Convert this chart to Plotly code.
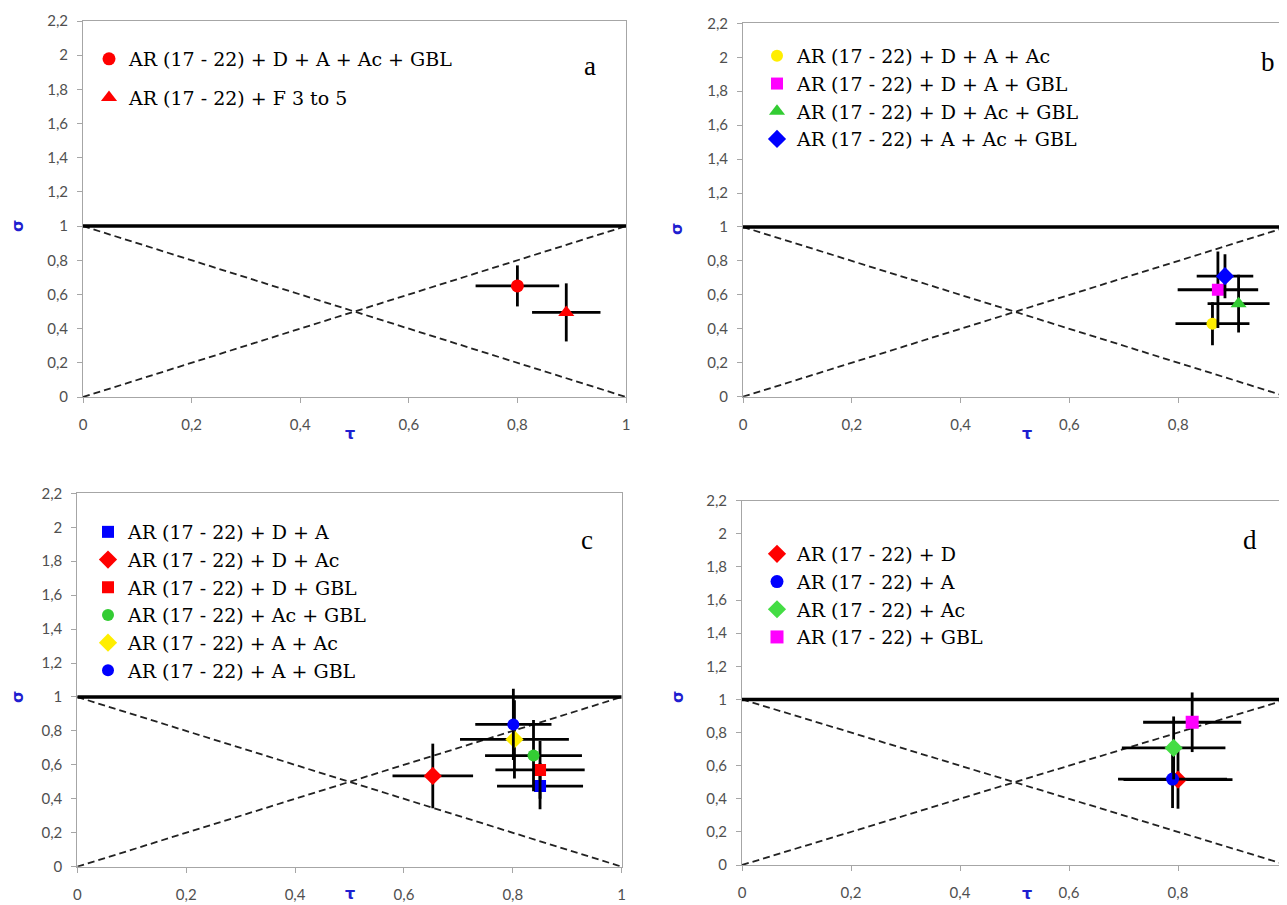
import plotly.graph_objects as go

# ---------------- data ----------------
names_a = ["AR (17 - 22) + D + A + Ac + GBL", "AR (17 - 22) + F 3 to 5"]
tau_a = [0.80, 0.89]
sig_a = [0.65, 0.495]
tau_err_a = [0.077, 0.063]
sig_err_a = [0.12, 0.17]

names_b = ["AR (17 - 22) + D + A + Ac", "AR (17 - 22) + D + A + GBL",
           "AR (17 - 22) + D + Ac + GBL", "AR (17 - 22) + A + Ac + GBL"]
tau_b = [0.863, 0.873, 0.911, 0.886]
sig_b = [0.43, 0.63, 0.548, 0.71]
tau_err_b = [0.068, 0.074, 0.057, 0.052]
sig_err_b = [0.127, 0.225, 0.17, 0.13]

names_c = ["AR (17 - 22) + D + A", "AR (17 - 22) + D + Ac", "AR (17 - 22) + D + GBL",
           "AR (17 - 22) + Ac + GBL", "AR (17 - 22) + A + Ac", "AR (17 - 22) + A + GBL"]
tau_c = [0.85, 0.653, 0.85, 0.838, 0.803, 0.801]
sig_c = [0.475, 0.535, 0.57, 0.655, 0.75, 0.838]
tau_err_c = [0.079, 0.074, 0.082, 0.089, 0.10, 0.07]
sig_err_c = [0.136, 0.19, 0.17, 0.21, 0.23, 0.21]

names_d = ["AR (17 - 22) + D", "AR (17 - 22) + A", "AR (17 - 22) + Ac", "AR (17 - 22) + GBL"]
tau_d = [0.80, 0.79, 0.792, 0.826]
sig_d = [0.515, 0.519, 0.707, 0.862]
tau_err_d = [0.10, 0.10, 0.095, 0.09]
sig_err_d = [0.175, 0.175, 0.19, 0.18]

# reference lines
ref_x = [0, 1]
unity_y = [1, 1]
diag_up_y = [0, 1]
diag_down_y = [1, 0]

x_ticks = [0, 0.2, 0.4, 0.6, 0.8, 1]
x_ticktext = ["0", "0,2", "0,4", "0,6", "0,8", "1"]
y_ticks = [0, 0.2, 0.4, 0.6, 0.8, 1, 1.2, 1.4, 1.6, 1.8, 2, 2.2]
y_ticktext = ["0", "0,2", "0,4", "0,6", "0,8", "1", "1,2", "1,4", "1,6", "1,8", "2", "2,2"]

panel_letters = ["a", "b", "c", "d"]

# ---------------- styles ----------------
RED = "#FF0000"
YEL = "#FFEE00"
MAG = "#FF00FF"
GRN = "#33CC33"
BLU = "#0000FF"
LGRN = "#44DD44"

styles_a = [("circle", RED, 13), ("triangle-up", RED, 14)]
styles_b = [("circle", YEL, 12), ("square", MAG, 12), ("triangle-up", GRN, 14), ("diamond", BLU, 14)]
styles_c = [("square", BLU, 12), ("diamond", RED, 14), ("square", RED, 12),
            ("circle", GRN, 12), ("diamond", YEL, 14), ("circle", BLU, 12)]
styles_d = [("diamond", RED, 14), ("circle", BLU, 13), ("diamond", LGRN, 14), ("square", MAG, 13)]

# page body has an 8px margin: the figure is drawn from (8, 8)
OFF = 8
W, H = 1287 - OFF, 905 - OFF
def px_x(p):
    return (p - OFF) / W
def px_y(p):
    return 1 - (p - OFF) / H

domains = [
    ([px_x(83), px_x(626)], [px_y(397), px_y(21)]),
    ([px_x(743), 1.0], [px_y(396.7), px_y(23.3)]),
    ([px_x(77.3), px_x(621.7)], [px_y(866.7), px_y(493.3)]),
    ([px_x(742), 1.0], [px_y(865), px_y(500.7)]),
]

fig = go.Figure()

panels = [
    (names_a, tau_a, sig_a, tau_err_a, sig_err_a, styles_a),
    (names_b, tau_b, sig_b, tau_err_b, sig_err_b, styles_b),
    (names_c, tau_c, sig_c, tau_err_c, sig_err_c, styles_c),
    (names_d, tau_d, sig_d, tau_err_d, sig_err_d, styles_d),
]

legend_names = ["legend", "legend2", "legend3", "legend4"]

for i, (names, tau, sig, te, se, sty) in enumerate(panels):
    xa = "x" if i == 0 else f"x{i+1}"
    ya = "y" if i == 0 else f"y{i+1}"
    fig.add_trace(go.Scatter(x=ref_x, y=diag_down_y, mode="lines", xaxis=xa, yaxis=ya,
                             line=dict(color="#222222", width=1.8, dash="7px,4px"),
                             showlegend=False, hoverinfo="skip"))
    fig.add_trace(go.Scatter(x=ref_x, y=diag_up_y, mode="lines", xaxis=xa, yaxis=ya,
                             line=dict(color="#222222", width=1.8, dash="7px,4px"),
                             showlegend=False, hoverinfo="skip"))
    fig.add_trace(go.Scatter(x=ref_x, y=unity_y, mode="lines", xaxis=xa, yaxis=ya,
                             line=dict(color="black", width=3.5),
                             showlegend=False, hoverinfo="skip"))
    for j, nm in enumerate(names):
        sym, col, sz = sty[j]
        fig.add_trace(go.Scatter(
            x=[tau[j]], y=[sig[j]], mode="markers", name=nm,
            xaxis=xa, yaxis=ya, legend=legend_names[i],
            legendgroup=f"g{i}_{j}",
            marker=dict(symbol=sym, color=col, size=sz, line=dict(width=0)),
            error_x=dict(type="data", array=[te[j]], color="black", thickness=2.8, width=0),
            error_y=dict(type="data", array=[se[j]], color="black", thickness=2.8, width=0),
        ))

axis_common = dict(showgrid=False, zeroline=False, showline=True, linecolor="#A6A6A6",
                   linewidth=1, mirror=True, ticks="outside", tickcolor="#A6A6A6",
                   ticklen=5, automargin=False,
                   tickfont=dict(family="Lato", size=15, color="#505050"))

layout = dict(width=W, height=H, margin=dict(l=0, r=0, t=0, b=0, pad=0),
              plot_bgcolor="white", paper_bgcolor="white", autosize=False)

for i in range(4):
    xk = "xaxis" if i == 0 else f"xaxis{i+1}"
    yk = "yaxis" if i == 0 else f"yaxis{i+1}"
    xa = "x" if i == 0 else f"x{i+1}"
    ya = "y" if i == 0 else f"y{i+1}"
    layout[xk] = dict(domain=domains[i][0], range=[0, 1], anchor=ya,
                      tickvals=x_ticks, ticktext=x_ticktext, ticklabelstandoff=9, **axis_common)
    layout[yk] = dict(domain=domains[i][1], range=[0, 2.2], anchor=xa,
                      tickvals=y_ticks, ticktext=y_ticktext, ticklabelstandoff=6, **axis_common)

leg_font = dict(family="DejaVu Serif", size=19, color="black")
leg_pos = [(89, 40), (757, 37), (88, 513), (757, 535)]
for i, (lx, ly) in enumerate(leg_pos):
    key = legend_names[i]
    layout[key] = dict(x=px_x(lx), y=px_y(ly), xanchor="left", yanchor="top",
                       bgcolor="rgba(0,0,0,0)", font=leg_font,
                       tracegroupgap=(11 if i == 0 else 0), itemwidth=30)

fig.update_layout(**layout)

# panel letters
letter_pos = [(590, 66), (1268, 62), (587, 540), (1250, 540)]
for t, (lx, ly) in zip(panel_letters, letter_pos):
    fig.add_annotation(text=t, x=px_x(lx), y=px_y(ly), xref="paper", yref="paper",
                       xanchor="center", yanchor="middle", showarrow=False,
                       font=dict(family="Liberation Serif", size=27, color="black"))

# axis titles
sig_pos = [(17, 226), (677, 229), (17, 697), (677, 697)]
tau_pos = [(350, 433), (1027, 433), (350, 893), (1027, 893)]
for (sx, sy) in sig_pos:
    fig.add_annotation(text="<b>σ</b>", x=px_x(sx), y=px_y(sy), xref="paper", yref="paper",
                       xanchor="center", yanchor="middle", showarrow=False, textangle=-90,
                       font=dict(family="DejaVu Sans", size=16, color="#1F1FD0"))
for (tx, ty) in tau_pos:
    fig.add_annotation(text="<b>τ</b>", x=px_x(tx), y=px_y(ty), xref="paper", yref="paper",
                       xanchor="center", yanchor="middle", showarrow=False,
                       font=dict(family="DejaVu Sans", size=16, color="#1F1FD0"))

fig.write_html("out.html")
